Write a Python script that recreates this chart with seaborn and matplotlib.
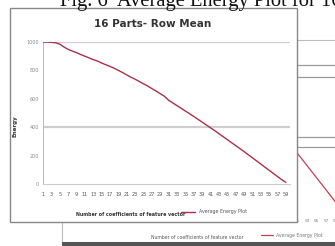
import matplotlib
matplotlib.use('Agg')
import matplotlib.pyplot as plt
from matplotlib.patches import Rectangle
import seaborn as sns

# main chart: 16 parts - row mean
coef = list(range(1, 60))
energy = [1000, 1000, 998, 995, 985, 965, 948, 936, 925, 912,
          900, 888, 876, 866, 852, 840, 828, 815, 800, 785,
          768, 752, 738, 722, 705, 690, 672, 655, 636, 618,
          590, 571, 552, 533, 514, 495, 476, 456, 436, 416,
          396, 376, 355, 334, 313, 292, 271, 250, 229, 207,
          185, 163, 141, 119, 97, 75, 53, 31, 12]
y_ticks = [0, 200, 400, 600, 800, 1000]
grid_levels = [400, 1000]
x_ticks = list(range(1, 60, 2))

# chart behind (mostly hidden)
bg_coef = [1, 10, 20, 30, 40, 45, 50, 52, 54, 56, 58, 60]
bg_energy = [1000, 880, 760, 640, 520, 450, 375, 305, 235, 165, 95, 25]
bg_grid = [378, 436, 785, 855]

sns.set_style('white')
plt.rcParams['font.family'] = ['DejaVu Sans']

W, H = 335, 246
fig = plt.figure(figsize=(W / 100, H / 100), dpi=100)


def box(x0, y0, x1, y1):
    # pixel box (top-left origin) -> figure rect
    return [x0 / W, 1 - y1 / H, (x1 - x0) / W, (y1 - y0) / H]


# ---- background chart ----
bg = fig.add_axes(box(62, 40, 340, 212), zorder=0)
sns.lineplot(x=bg_coef, y=bg_energy, ax=bg, color='#c04050', lw=0.9,
             label='Average Energy Plot')
bg.set_xlim(1, 60)
bg.set_ylim(0, 1000)
bg.set_yticks(bg_grid)
bg.set_xticks(x_ticks)
bg.set_xticklabels([str(t) for t in x_ticks], fontsize=3, color='#777')
bg.tick_params(axis='x', length=0, pad=5)
bg.tick_params(axis='y', length=0, labelleft=False)
bg.yaxis.grid(True, color='#999', lw=0.9)
for s in bg.spines.values():
    s.set_visible(False)
bg.set_xlabel('Number of coefficients of feature vector', fontsize=3.3, color='#555')
bg.xaxis.set_label_coords(0.486, -0.134)
bg.legend(loc='center left', bbox_to_anchor=(0.71, -0.134), fontsize=3.3,
          frameon=False, handlelength=2.5, borderaxespad=0, labelcolor='#777')

fig.patches.append(Rectangle((62 / W, 1 - 242 / H), 280 / W, 202 / H,
                             transform=fig.transFigure, fill=False,
                             edgecolor='#bbb', lw=0.8, zorder=0.5))
fig.patches.append(Rectangle((62 / W, 0), 280 / W, 4 / H,
                             transform=fig.transFigure, facecolor='#555',
                             edgecolor='none', zorder=0.5))

# ---- main chart frame ----
fig.patches.append(Rectangle((10 / W, 1 - 222 / H), 287 / W, 214 / H,
                             transform=fig.transFigure, facecolor='white',
                             edgecolor='#888', lw=1, zorder=1))

ax = fig.add_axes(box(43, 42, 290, 184), zorder=2)
ax.set_facecolor('none')
for lvl in grid_levels:
    ax.axhline(lvl, color='#cfcfcf', lw=1.6, zorder=0)
sns.lineplot(x=coef, y=energy, ax=ax, color='#a8304a', lw=1.0,
             label='Average Energy Plot', zorder=3)
ax.set_xlim(1, 60)
ax.set_ylim(0, 1000)
ax.set_yticks(y_ticks)
ax.set_yticklabels([str(t) for t in y_ticks], fontsize=3.5, color='#888')
ax.set_xticks(x_ticks)
ax.set_xticklabels([str(t) for t in x_ticks], fontsize=3.6, color='#555')
ax.tick_params(axis='both', length=0, pad=3)
ax.tick_params(axis='x', pad=6)
for side in ['top', 'right']:
    ax.spines[side].set_visible(False)
ax.spines['left'].set_color('#bbb')
ax.spines['left'].set_linewidth(0.7)
ax.spines['bottom'].set_color('#ccc')
ax.spines['bottom'].set_linestyle((0, (2, 1)))
ax.spines['bottom'].set_linewidth(0.8)

ax.set_ylabel('Energy', fontsize=4, color='#333', fontweight='bold')
ax.yaxis.set_label_coords(-0.105, 0.41)
ax.set_xlabel('Number of coefficients of feature vector', fontsize=3.4,
              color='#333', fontweight='bold')
ax.xaxis.set_label_coords(0.356, -0.197)
ax.legend(loc='center left', bbox_to_anchor=(0.55, -0.197), fontsize=3.4,
          frameon=False, handlelength=3, borderaxespad=0, labelcolor='#555')

fig.text(153 / W, 1 - 24 / H, '16 Parts- Row Mean', fontsize=7.5,
         fontweight='bold', family='Liberation Sans Narrow', color='#333',
         ha='center', va='center', zorder=3)

# caption of the page, cut at the top edge
fig.text(60 / W, 1 - 6 / H, 'Fig. 6  Average Energy Plot for 16', fontsize=14.8,
         family='Liberation Serif', color='#111', ha='left', va='baseline',
         zorder=3)

fig.savefig('out.png', dpi=100, facecolor='white')
